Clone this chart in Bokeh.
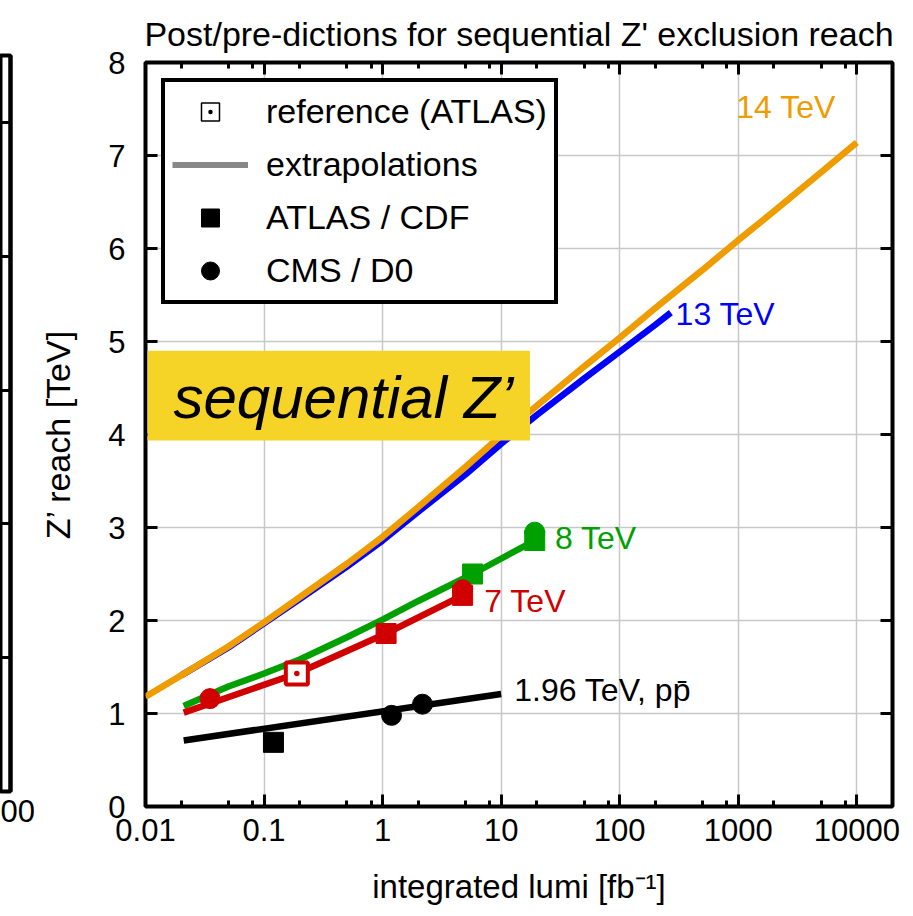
from bokeh.plotting import figure
from bokeh.layouts import row
from bokeh.models import (FixedTicker, LogAxis, LinearAxis, Label, BoxAnnotation,
                          CustomJSTickFormatter, Legend, LegendItem, Title)
from bokeh.embed import file_html
from bokeh.resources import INLINE

FONT = "Liberation Sans"

# ---------------- data ----------------
x_ticks = [0.01, 0.1, 1, 10, 100, 1000, 10000]
x_minor = [0.02, 0.05, 0.08, 0.2, 0.5, 0.8, 2, 5, 8, 20, 50, 80, 200, 500, 800,
           2000, 5000, 8000]
y_ticks = [0, 1, 2, 3, 4, 5, 6, 7, 8]
left_panel_ticks = [1, 2, 3, 4, 5]

# extrapolations
lumi_14 = [0.01, 0.02, 0.05, 0.1, 0.2, 0.5, 1, 2, 5, 10, 20, 50, 100, 200, 500,
           1000, 2000, 5000, 10000]
reach_14 = [1.18, 1.41, 1.72, 1.98, 2.25, 2.61, 2.90, 3.22, 3.65, 3.99, 4.31, 4.73,
            5.04, 5.36, 5.77, 6.09, 6.40, 6.82, 7.14]

lumi_13 = [0.02, 0.05, 0.1, 0.2, 0.5, 1, 2, 5, 10, 20, 50, 100, 200, 270]
reach_13 = [1.41, 1.71, 1.97, 2.23, 2.58, 2.86, 3.17, 3.57, 3.90, 4.21, 4.60, 4.89,
            5.18, 5.31]

lumi_8 = [0.021, 0.05, 0.1, 0.2, 0.5, 1, 2, 5.74, 19.2]
reach_8 = [1.08, 1.29, 1.43, 1.58, 1.82, 2.01, 2.21, 2.50, 2.86]

lumi_7 = [0.021, 0.189, 1.07, 4.73]
reach_7 = [1.01, 1.43, 1.86, 2.27]

lumi_196 = [0.021, 10]
reach_196 = [0.71, 1.21]

# measured limits
atlas8_lumi = [5.74, 19.2]
atlas8_reach = [2.50, 2.86]
cms8_lumi = [19.2]
cms8_reach = [2.95]

atlas7_lumi = [1.07, 4.73]
atlas7_reach = [1.86, 2.27]
cms7_lumi = [0.035, 4.73]
cms7_reach = [1.16, 2.33]
ref7_lumi = [0.189]
ref7_reach = [1.43]

cdf_lumi = [0.12]
cdf_reach = [0.69]
d0_lumi = [1.19, 2.17]
d0_reach = [0.98, 1.10]

C14 = "#EE9C00"
C13 = "#0000FF"
C8 = "#00A000"
C7 = "#D00000"
C196 = "#000000"

blank = CustomJSTickFormatter(code="return '';")

# ---------------- left partial panel (edge of the neighbouring plot) ----------------
lp = figure(width=34, height=916, x_range=(0, 1), y_range=(0, 5.5),
            output_backend="svg", toolbar_location=None,
            x_axis_location=None, y_axis_location="right",
            min_border_left=0, min_border_right=24, min_border_top=55,
            min_border_bottom=125, frame_align=False)
lp.grid.visible = False
lp.outline_line_color = "black"
lp.outline_line_width = 4
lp_ax = lp.right[0]
lp_ax.ticker = FixedTicker(ticks=left_panel_ticks)
lp_ax.formatter = blank
lp_ax.major_tick_in = 10
lp_ax.major_tick_out = 0
lp_ax.major_tick_line_width = 3
lp_ax.minor_tick_line_color = None
lp_ax.major_label_text_font_size = "2px"
lp_ax.major_label_standoff = 0
lp_ax.axis_line_width = 4
lp.add_layout(Title(text="00", align="left", text_font=FONT, text_font_size="31px",
                    text_font_style="normal", text_color="black", standoff=12),
              "below")

# ---------------- main panel ----------------
p = figure(width=879, height=916, x_axis_type="log", x_range=(0.01, 20000),
           y_range=(0, 8), output_backend="svg", toolbar_location=None,
           min_border_left=111, min_border_right=21, min_border_top=62,
           min_border_bottom=110, frame_align=False,
           title="Post/pre-dictions for sequential Z' exclusion reach")
p.title.text_font = FONT
p.title.text_font_size = "34px"
p.title.text_font_style = "normal"
p.title.align = "center"
p.title.text_color = "black"
p.title.standoff = 20

p.outline_line_color = "black"
p.outline_line_width = 4
p.outline_line_alpha = 1

xt = FixedTicker(ticks=x_ticks, minor_ticks=x_minor)
yt = FixedTicker(ticks=y_ticks)

bottom_ax = p.below[0]
left_ax = p.left[0]
bottom_ax.ticker = xt
bottom_ax.formatter = CustomJSTickFormatter(code="return String(tick);")
left_ax.ticker = yt

top_ax = LogAxis(ticker=xt, formatter=blank)
right_ax = LinearAxis(ticker=yt, formatter=blank)
p.add_layout(top_ax, "above")
p.add_layout(right_ax, "right")

for ax in [bottom_ax, left_ax, top_ax, right_ax]:
    ax.axis_line_color = None
    ax.major_tick_in = 12
    ax.major_tick_out = 0
    ax.major_tick_line_width = 3
    ax.minor_tick_in = 6
    ax.minor_tick_out = 0
    ax.minor_tick_line_width = 3
    ax.major_label_text_font = FONT
    ax.major_label_text_font_size = "31px"
    ax.major_label_text_color = "black"
    ax.axis_label_text_font = FONT
    ax.axis_label_text_font_size = "33px"
    ax.axis_label_text_font_style = "normal"
    ax.axis_label_text_color = "black"

for ax in [top_ax, right_ax]:
    ax.major_label_text_font_size = "2px"
    ax.major_label_standoff = 0
left_ax.minor_tick_line_color = None
right_ax.minor_tick_line_color = None

bottom_ax.major_label_standoff = 12
left_ax.major_label_standoff = 20
bottom_ax.axis_label = "integrated lumi [fb\u207b\u00b9]"
left_ax.axis_label = "Z\u2019 reach [TeV]"
left_ax.axis_label_text_font_size = "34px"
bottom_ax.axis_label_standoff = 24
left_ax.axis_label_standoff = 28

p.xgrid.ticker = xt
p.grid.grid_line_color = "#c8c8c8"
p.grid.grid_line_width = 1.5
p.xgrid.minor_grid_line_color = None

# curves
p.line(lumi_13, reach_13, line_color=C13, line_width=6.5)
p.line(lumi_14, reach_14, line_color=C14, line_width=6.5)
p.line(lumi_8, reach_8, line_color=C8, line_width=6.5)
p.scatter(cms8_lumi, cms8_reach, marker="circle", size=20, color=C8)
p.scatter(atlas8_lumi, atlas8_reach, marker="square", size=20, color=C8)
p.line(lumi_7, reach_7, line_color=C7, line_width=6.5)
p.scatter(cms7_lumi, cms7_reach, marker="circle", size=20, color=C7)
p.scatter(atlas7_lumi, atlas7_reach, marker="square", size=20, color=C7)
p.scatter(ref7_lumi, ref7_reach, marker="square_dot", size=22, line_width=4,
          line_color=C7, fill_color="white")
p.line(lumi_196, reach_196, line_color=C196, line_width=6.5)
r_sq = p.scatter(cdf_lumi, cdf_reach, marker="square", size=20, color=C196)
r_ci = p.scatter(d0_lumi, d0_reach, marker="circle", size=20, color=C196)

# legend-only (hidden) renderers that give the neutral legend styles
r_ref = p.scatter(ref7_lumi, ref7_reach, marker="square_dot", line_color="black",
                  fill_color="white", line_width=1.5, visible=False)
r_ext = p.line(lumi_14, reach_14, line_color="#888888", line_width=6,
               visible=False)

legend = Legend(items=[LegendItem(label="reference (ATLAS)", renderers=[r_ref]),
                       LegendItem(label="extrapolations", renderers=[r_ext]),
                       LegendItem(label="ATLAS / CDF", renderers=[r_sq]),
                       LegendItem(label="CMS / D0", renderers=[r_ci])],
                location="top_left", margin=16, padding=7, spacing=8,
                glyph_width=76, glyph_height=45, label_height=45,
                label_standoff=18, label_text_font=FONT,
                label_text_font_size="34px", label_text_color="black",
                border_line_color="black", border_line_width=4,
                border_line_alpha=1, inactive_fill_alpha=0,
                background_fill_color="white", background_fill_alpha=1)
p.add_layout(legend)

# yellow "sequential Z'" badge
p.add_layout(BoxAnnotation(left=0.0104, right=17.5, bottom=3.935, top=4.90,
                           fill_color="#F5D327", fill_alpha=1, line_color=None))
p.add_layout(Label(x=0.0172, y=4.40, text="sequential Z\u2019", text_align="left",
                   text_baseline="middle", text_font=FONT, text_font_size="60px",
                   text_font_style="italic", text_color="black"))

# curve labels
lab = dict(text_font=FONT, text_font_size="32px", text_align="left",
           text_baseline="middle")
p.add_layout(Label(x=962, y=7.52, text="14 TeV", text_color=C14, **lab))
p.add_layout(Label(x=296, y=5.30, text="13 TeV", text_color=C13, **lab))
p.add_layout(Label(x=28.4, y=2.89, text="8 TeV", text_color=C8, **lab))
p.add_layout(Label(x=7.2, y=2.215, text="7 TeV", text_color=C7, **lab))
p.add_layout(Label(x=12.9, y=1.25, text="1.96 TeV, pp\u0304", text_color=C196, **lab))

layout = row(lp, p)
open("out.html", "w").write(file_html(layout, INLINE))
